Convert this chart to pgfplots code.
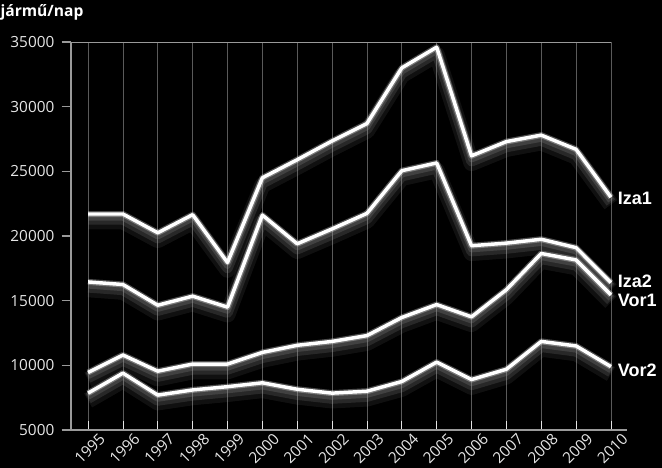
\documentclass[border=0pt]{standalone}
\usepackage{pgfplots}
\usepackage{pgfplotstable}
\pgfplotsset{compat=1.18}
\usepackage{fontspec}
\setmainfont{Open Sans}
\newfontfamily\lab{Liberation Sans}
\pgfplotstableread{
year Iza1 Iza2 Vor1 Vor2
1995 21700 16450 9450 7850
1996 21700 16250 10800 9400
1997 20250 14650 9550 7700
1998 21650 15350 10100 8100
1999 17950 14500 10100 8350
2000 24500 21620 11000 8650
2001 25900 19400 11550 8150
2002 27350 20550 11850 7850
2003 28700 21750 12300 8000
2004 33000 25050 13700 8750
2005 34600 25650 14700 10250
2006 26200 19250 13750 8900
2007 27300 19450 15850 9700
2008 27800 19750 18650 11850
2009 26700 19100 18150 11500
2010 23000 16400 15450 9900
}\datatable
\definecolor{gridc}{HTML}{5A5A5A}
\definecolor{axc}{HTML}{9A9A9A}
\definecolor{tickc}{HTML}{E6E6E6}
\tikzset{
  sh1/.style={gray!70, line width=12pt, opacity=0.10, yshift=-5.5pt, line join=round},
  sh2/.style={gray!80, line width=8pt, opacity=0.18, yshift=-4pt, line join=round},
  sh3/.style={gray!90, line width=5pt, opacity=0.25, yshift=-2.5pt, line join=round},
  halo/.style={white, line width=4.5pt, opacity=0.3, line join=round},
  mainl/.style={white, line width=2.6pt, line join=round},
}
\begin{document}
\begin{tikzpicture}
\fill[black, use as bounding box] (-53.25pt,-28.5pt) rectangle ++(496.5pt,351pt);
\begin{axis}[
  at={(0,0)}, anchor=south west,
  scale only axis, width=417pt, height=291pt,
  xmin=1994.51, xmax=2010.46, ymin=5000, ymax=35000,
  axis lines=left, axis line style={-, axc, line width=0.8pt},
  clip=false,
  xtick={1995,...,2010}, ytick={5000,10000,...,35000},
  scaled y ticks=false, scaled x ticks=false,
  /pgf/number format/1000 sep={},
  /pgf/number format/assume math mode=true,
  xmajorgrids, grid style={gridc, line width=0.5pt},
  xtick align=inside, ytick align=outside,
  major tick length=7pt,
  x tick style={tickc, line width=0.6pt},
  y tick style={axc, line width=0.8pt},
  tick label style={tickc, font=\fontsize{11.5}{13}\selectfont},
  y tick label style={xshift=-2pt},
  x tick label style={anchor=center, xshift=1.2pt, yshift=-14pt, rotate=45},
]
\addplot[axc, line width=0.6pt] coordinates {(1994.51,35000) (2010,35000)};
\addplot[sh1] table[x=year,y=Iza1]{\datatable};
\addplot[sh1] table[x=year,y=Iza2]{\datatable};
\addplot[sh1] table[x=year,y=Vor1]{\datatable};
\addplot[sh1] table[x=year,y=Vor2]{\datatable};
\addplot[sh2] table[x=year,y=Iza1]{\datatable};
\addplot[sh2] table[x=year,y=Iza2]{\datatable};
\addplot[sh2] table[x=year,y=Vor1]{\datatable};
\addplot[sh2] table[x=year,y=Vor2]{\datatable};
\addplot[sh3] table[x=year,y=Iza1]{\datatable};
\addplot[sh3] table[x=year,y=Iza2]{\datatable};
\addplot[sh3] table[x=year,y=Vor1]{\datatable};
\addplot[sh3] table[x=year,y=Vor2]{\datatable};
\addplot[halo] table[x=year,y=Iza1]{\datatable};
\addplot[halo] table[x=year,y=Iza2]{\datatable};
\addplot[halo] table[x=year,y=Vor1]{\datatable};
\addplot[halo] table[x=year,y=Vor2]{\datatable};
\addplot[mainl] table[x=year,y=Iza1]{\datatable};
\addplot[mainl] table[x=year,y=Iza2]{\datatable};
\addplot[mainl] table[x=year,y=Vor1]{\datatable};
\addplot[mainl] table[x=year,y=Vor2]{\datatable};
\node[anchor=west, white, font=\lab\bfseries\fontsize{13.5}{15}\selectfont, inner sep=0pt, xshift=5pt] at (axis cs:2010,22900) {Iza1};
\node[anchor=west, white, font=\lab\bfseries\fontsize{13.5}{15}\selectfont, inner sep=0pt, xshift=5pt] at (axis cs:2010,16500) {Iza2};
\node[anchor=west, white, font=\lab\bfseries\fontsize{13.5}{15}\selectfont, inner sep=0pt, xshift=5pt] at (axis cs:2010,15000) {Vor1};
\node[anchor=west, white, font=\lab\bfseries\fontsize{13.5}{15}\selectfont, inner sep=0pt, xshift=5pt] at (axis cs:2010,9600) {Vor2};
\end{axis}
\node[anchor=west, white, font=\bfseries\fontsize{11.7}{13}\selectfont, inner sep=0pt] at (-53pt,313.5pt) {jármű/nap};
\end{tikzpicture}
\end{document}
